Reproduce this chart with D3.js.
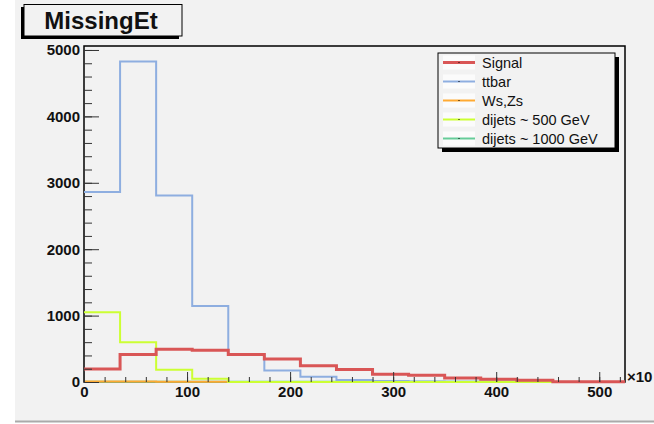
<!DOCTYPE html>
<html>
<head>
<meta charset="utf-8">
<script src="https://cdn.jsdelivr.net/npm/d3@7"></script>
<style>
  body { margin: 0; background: #fff; }
  svg { display: block; }
  text { font-family: "Liberation Sans", Arial, Helvetica, sans-serif; fill: #111; }
  .axis path { display: none; }
  .axis line { stroke: #333; }
  .axis text { font-size: 15px; font-weight: bold; fill: #111; }
</style>
</head>
<body>
<div id="chart"></div>
<script>
// bin edges (MissingEt, 15 bins)
var binEdges = [0, 35, 70, 105, 140, 175, 210, 245, 280, 315, 350, 385, 420, 455, 490, 525];

// per-bin contents
var signal     = [195, 415, 495, 480, 415, 345, 245, 190, 115, 100, 60, 40, 25, 5, 3];
var ttbar      = [2860, 4825, 2810, 1145, 415, 173, 80, 30, 15, 8, 5, 3, 2, 1, 0];
var wsZs       = [8, 6, 2, 5, 1, 0, 0, 0, 0, 0, 0, 0, 0, 0, 0];
var dijets500  = [1052, 597, 185, 50, 0, 0, 0, 0, 0, 0, 0, 0, 0, 0, 0];
var dijets1000 = [3, 3, 3, 3, 3, 3, 3, 3, 2, 2, 2, 2, 2, 0, 0];

var legendNames = ["Signal", "ttbar", "Ws,Zs", "dijets ~ 500 GeV", "dijets ~ 1000 GeV"];
var xTicks = [0, 100, 200, 300, 400, 500];
var yTicks = [0, 1000, 2000, 3000, 4000, 5000];

function init() {
    var W = 654, H = 424;
    var fr = {left: 84, top: 46, right: 625, bottom: 382};

    var svg = d3.select("#chart").append("svg")
        .attr("width", W)
        .attr("height", H);

    // canvas background
    svg.append("rect")
        .attr("x", 15).attr("y", 0)
        .attr("width", W - 15).attr("height", 421)
        .attr("fill", "#f2f2f2");
    svg.append("line")
        .attr("x1", 15).attr("x2", W)
        .attr("y1", 421.5).attr("y2", 421.5)
        .attr("stroke", "#aaa").attr("stroke-width", 2);

    var x = d3.scaleLinear().domain([0, 525]).range([fr.left, fr.right]),
        y = d3.scaleLinear().domain([0, 5060]).range([fr.bottom, fr.top]);

    // frame
    svg.append("rect")
        .attr("x", fr.left).attr("y", fr.top)
        .attr("width", fr.right - fr.left).attr("height", fr.bottom - fr.top)
        .attr("fill", "none").attr("stroke", "#000").attr("stroke-width", 1.5);

    // histograms
    var line = d3.line()
        .x(function(d) { return x(d[0]); })
        .y(function(d) { return y(d[1]); })
        .curve(d3.curveStepAfter);

    function steps(vals) {
        return binEdges.map(function(e, i) {
            return [e, vals[Math.min(i, vals.length - 1)]];
        });
    }

    var series = [
        {vals: dijets1000, color: "#66cc99", width: 2},
        {vals: wsZs,       color: "#ffaa33", width: 2},
        {vals: ttbar,      color: "#8eaee0", width: 2},
        {vals: dijets500,  color: "#ccff33", width: 2},
        {vals: signal,     color: "#d95656", width: 3}
    ];

    series.forEach(function(s) {
        svg.append("path")
            .datum(steps(s.vals))
            .attr("d", line)
            .attr("fill", "none")
            .attr("stroke", s.color)
            .attr("stroke-width", s.width);
    });

    // y axis: minor + major ticks pointing inside
    svg.append("g")
        .attr("class", "axis")
        .attr("transform", "translate(" + fr.left + ",0)")
        .call(d3.axisLeft(y).ticks(25).tickSize(-8).tickFormat(""));
    svg.append("g")
        .attr("class", "axis")
        .attr("transform", "translate(" + fr.left + ",0)")
        .call(d3.axisLeft(y).tickValues(yTicks).tickSize(-15).tickPadding(4).tickFormat(d3.format("d")));

    // x axis
    svg.append("g")
        .attr("class", "axis")
        .attr("transform", "translate(0," + fr.bottom + ")")
        .call(d3.axisBottom(x).ticks(26).tickSize(-5).tickFormat(""));
    svg.append("g")
        .attr("class", "axis")
        .attr("transform", "translate(0," + fr.bottom + ")")
        .call(d3.axisBottom(x).tickValues(xTicks).tickSize(-10).tickPadding(4).tickFormat(d3.format("d")));

    svg.append("text")
        .attr("x", 627).attr("y", 382)
        .style("font-size", "15px")
        .style("font-weight", "bold")
        .text("\u00d710");

    // title box
    svg.append("rect")
        .attr("x", 21).attr("y", 7)
        .attr("width", 158).attr("height", 32)
        .attr("fill", "#000");
    svg.append("rect")
        .attr("x", 24).attr("y", 4.5)
        .attr("width", 158).attr("height", 31.5)
        .attr("fill", "#f2f2f2").attr("stroke", "#000").attr("stroke-width", 1);
    svg.append("text")
        .attr("x", 101).attr("y", 29)
        .attr("text-anchor", "middle")
        .style("font-size", "24px")
        .style("font-weight", "bold")
        .text("MissingEt");

    // legend
    var lg = {x: 438, y: 53, w: 177, h: 95};
    svg.append("rect")
        .attr("x", lg.x + 4).attr("y", lg.y + 4)
        .attr("width", lg.w).attr("height", lg.h)
        .attr("fill", "#000");
    svg.append("rect")
        .attr("x", lg.x).attr("y", lg.y)
        .attr("width", lg.w).attr("height", lg.h)
        .attr("fill", "#f2f2f2").attr("stroke", "#000").attr("stroke-width", 1);

    var legendColors = ["#d95656", "#8eaee0", "#ffaa33", "#ccff33", "#66cc99"];
    var legendWidths = [3, 2, 2, 2, 2];

    var rows = svg.selectAll(".leg")
        .data(legendNames)
        .enter().append("g")
        .attr("class", "leg")
        .attr("transform", function(d, i) { return "translate(" + lg.x + "," + (lg.y + 9.5 + i * 19) + ")"; });

    rows.append("rect")
        .attr("x", 5).attr("y", -7)
        .attr("width", 32).attr("height", 14)
        .attr("fill", "#fbfbfb");
    rows.append("line")
        .attr("x1", 5).attr("x2", 37)
        .attr("stroke", function(d, i) { return legendColors[i]; })
        .attr("stroke-width", function(d, i) { return legendWidths[i]; });
    rows.append("rect")
        .attr("x", 20.5).attr("y", -0.5)
        .attr("width", 1).attr("height", 1)
        .attr("fill", "#000");
    rows.append("text")
        .attr("x", 44).attr("dy", "0.36em")
        .style("font-size", "14.5px")
        .text(function(d) { return d; });
}
init();
</script>
</body>
</html>
